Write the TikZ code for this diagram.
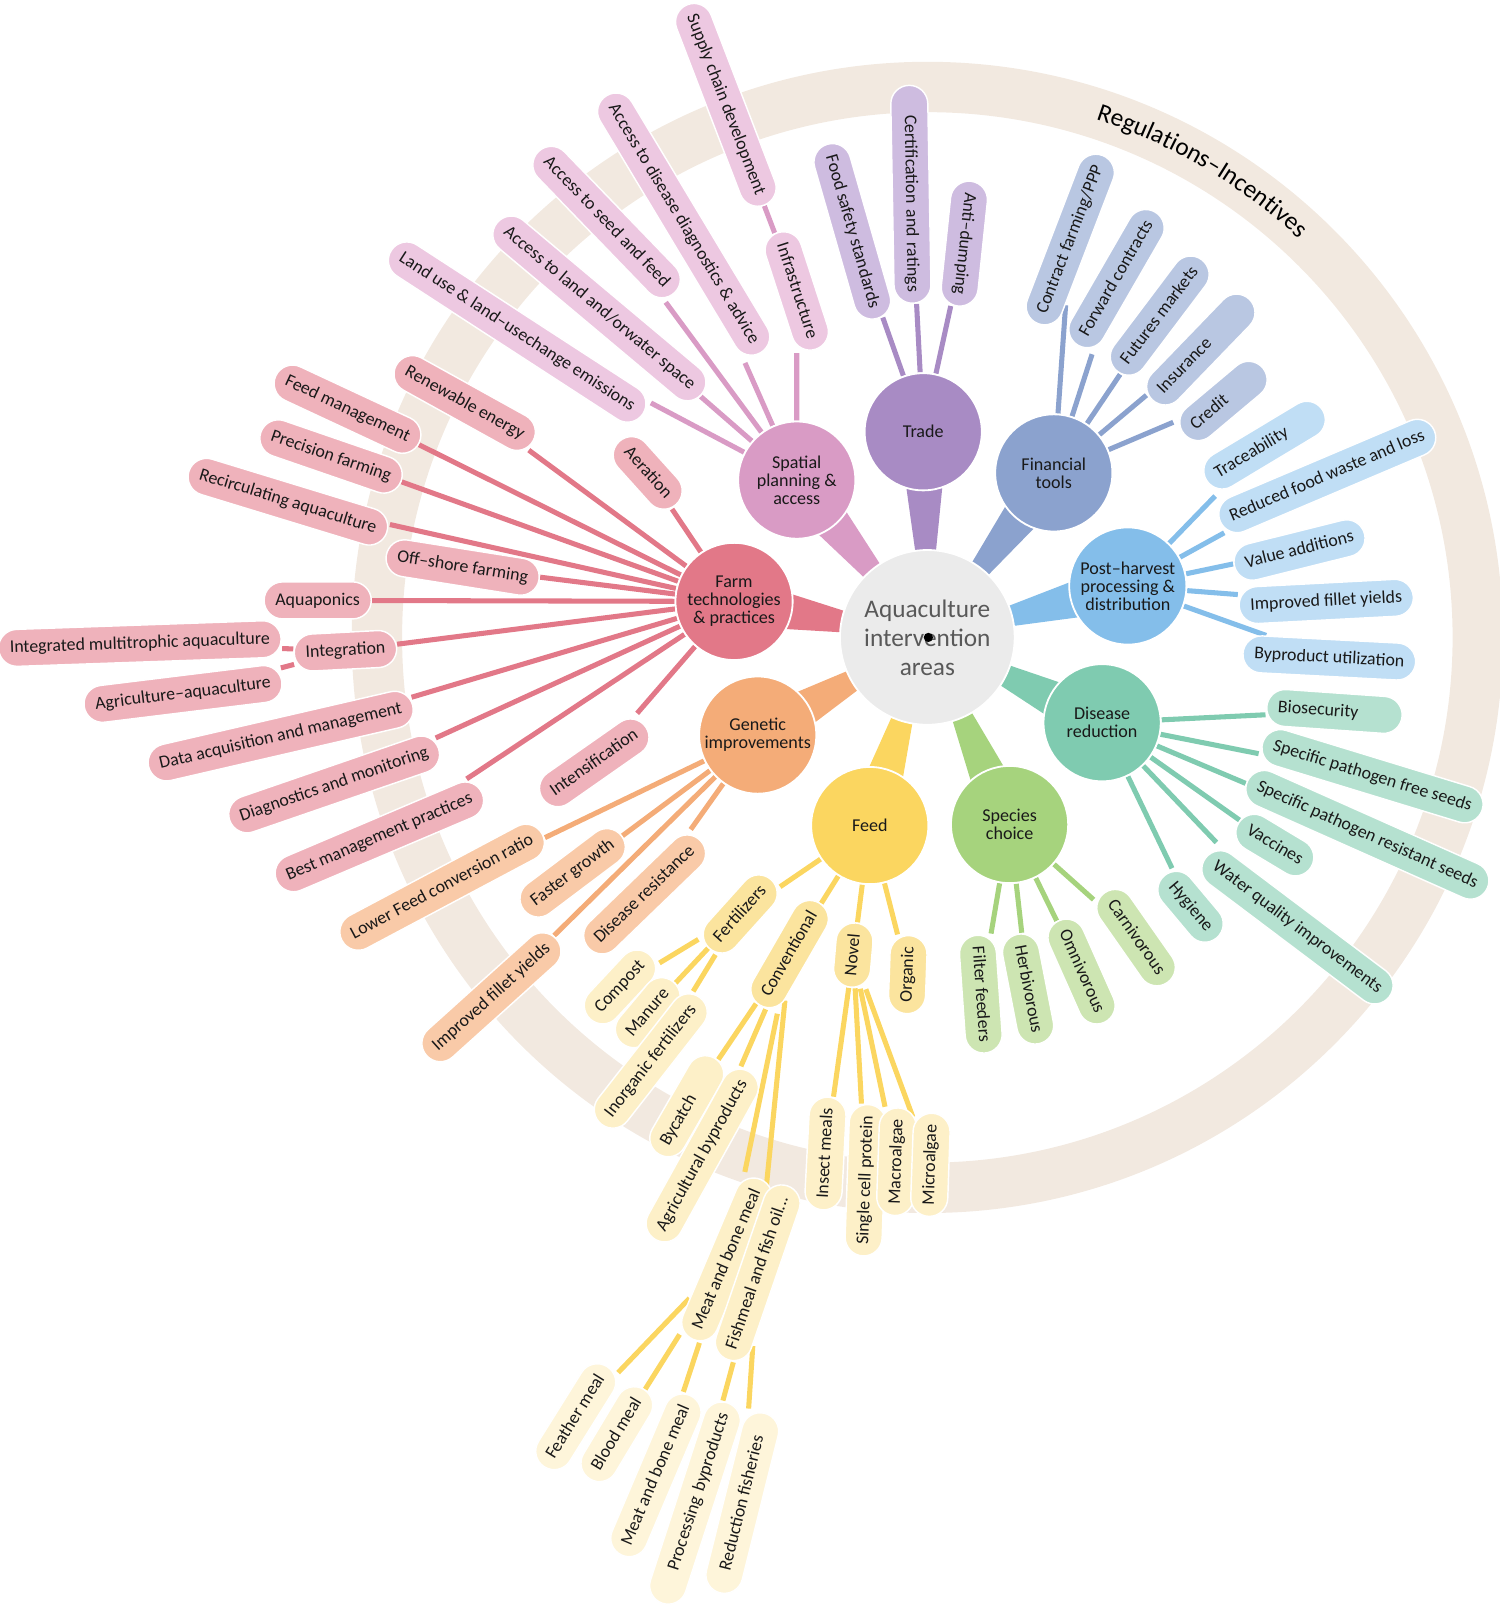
\documentclass[tikz,border=0pt]{standalone}
\usepackage{fontspec}
\setmainfont{Carlito}
\usetikzlibrary{calc}
\usetikzlibrary{decorations.text}
\pgfdeclarelayer{background}
\pgfsetlayers{background,main}
% hub colours (H), leaf colours (L)
\definecolor{ringC}{RGB}{242,233,224}
\definecolor{aquaC}{RGB}{235,235,235}
\definecolor{spaH}{RGB}{217,155,197}\definecolor{spaL}{RGB}{237,200,225}
\definecolor{traH}{RGB}{168,139,196}\definecolor{traL}{RGB}{206,188,224}
\definecolor{finH}{RGB}{139,162,206}\definecolor{finL}{RGB}{185,199,226}
\definecolor{posH}{RGB}{132,190,234}\definecolor{posL}{RGB}{192,222,245}
\definecolor{disH}{RGB}{127,203,176}\definecolor{disL}{RGB}{181,225,208}
\definecolor{speH}{RGB}{166,211,125}\definecolor{speL}{RGB}{205,229,178}
\definecolor{feeH}{RGB}{251,214,96}\definecolor{feeL}{RGB}{251,228,158}
\definecolor{feeM}{RGB}{253,240,200}\definecolor{feeN}{RGB}{254,245,218}
\definecolor{genH}{RGB}{244,172,120}\definecolor{genL}{RGB}{249,202,168}
\definecolor{farH}{RGB}{226,120,136}\definecolor{farL}{RGB}{239,178,187}
\tikzset{
    hub/.style={circle,fill=#1,draw=white,line width=1pt,minimum size=2.28cm,inner sep=0pt,
        align=center,font=\fontsize{10}{10}\selectfont,text=black!90},
    pill/.style={rectangle,rounded corners=0.36cm,fill=#1,draw=white,line width=0.8pt,
        minimum height=0.72cm,inner xsep=0.22cm,inner ysep=0pt,text height=1.45ex,text depth=0.35ex,
        font=\fontsize{9.9}{11}\selectfont,text=black!90},
    longpill/.style 2 args={text width=#1,align=#2},
    link/.style={draw=#1,line width=2.8pt},
}

\begin{document}
\begin{tikzpicture}[x=0.02cm,y=0.02cm]
\useasboundingbox (0,0) rectangle (1459,-1567);
% centre and hubs
\node[circle,fill=aquaC,draw=white,line width=1pt,minimum size=3.4cm,inner sep=0pt,align=center,
    font=\fontsize{14}{16}\selectfont,text=black!65] (aqua) at (902,-620) {Aquaculture\\intervention\\areas};
\node[hub=spaH] (spatial) at (775,-467) {Spatial\\planning \&\\access};
\node[hub=traH] (trade) at (898,-420) {Trade};
\node[hub=finH] (finance) at (1025,-460) {Financial\\tools};
\node[hub=posH] (post) at (1097,-570) {Post--harvest\\processing \&\\distribution};
\node[hub=disH] (disease) at (1072,-703) {Disease\\reduction};
\node[hub=speH] (species) at (982,-802) {Species\\choice};
\node[hub=feeH] (feed) at (846,-803) {Feed};
\node[hub=genH] (genetic) at (737,-715) {Genetic\\improvements};
\node[hub=farH] (farm) at (714,-585) {Farm\\technologies\\\& practices};
\fill (903,-620) circle[radius=0.09cm];
% spatial planning
\node[pill=spaL,rotate=-33] (landuse) at (503,-323) {Land use \& land--usechange emissions};
\node[pill=spaL,rotate=-40] (accland) at (583,-300) {Access to land and/orwater space};
\node[pill=spaL,rotate=-46] (accseed) at (590,-216) {Access to seed and feed};
\node[pill=spaL,rotate=-59] (accdis) at (665,-218) {Access to disease diagnostics \& advice};
\node[pill=spaL,rotate=-69] (supply) at (706,-102) {Supply chain development};
\node[pill=spaL,rotate=-72] (infra) at (775,-283) {Infrastructure};
% trade
\node[pill=traL,rotate=-74] (foodsafe) at (829,-225) {Food safety standards};
\node[pill=traL,rotate=-89,longpill={3.8cm}{right}] (certif) at (886,-189) {Certification and ratings};
\node[pill=traL,rotate=-96] (antidump) at (938,-237) {Anti--dumping};
% financial tools
\node[pill=finL,rotate=69] (contract) at (1041,-233) {Contract farming/PPP};
\node[pill=finL,rotate=60] (forward) at (1086,-271) {Forward contracts};
\node[pill=finL,rotate=53] (futures) at (1128,-307) {Futures markets};
\node[pill=finL,rotate=46,longpill={2.28cm}{left}] (insur) at (1168,-340) {Insurance};
\node[pill=finL,rotate=40,longpill={1.56cm}{left}] (credit) at (1190,-390) {Credit};
% post-harvest
\node[pill=posL,rotate=31,longpill={2.2cm}{left}] (trace) at (1230,-433) {Traceability};
\node[pill=posL,rotate=23] (reduced) at (1291,-463) {Reduced food waste and loss};
\node[pill=posL,rotate=14] (valueadd) at (1264,-535) {Value additions};
\node[pill=posL,rotate=3] (fillet) at (1290,-585) {Improved fillet yields};
\node[pill=posL,rotate=-3] (byprod) at (1293,-640) {Byproduct utilization};
% disease reduction
\node[pill=disL,rotate=-4,longpill={2.2cm}{left}] (biosec) at (1298,-692) {Biosecurity};
\node[pill=disL,rotate=-17] (spfree) at (1335,-755) {Specific pathogen free seeds};
\node[pill=disL,rotate=-24] (spres) at (1330,-812) {Specific pathogen resistant seeds};
\node[pill=disL,rotate=-31] (vacc) at (1240,-822) {Vaccines};
\node[pill=disL,rotate=-37] (water) at (1262,-902) {Water quality improvements};
\node[pill=disL,rotate=-50] (hygiene) at (1158,-882) {Hygiene};
% species choice
\node[pill=speL,rotate=-86] (filter) at (954,-967) {Filter feeders};
\node[pill=speL,rotate=-79] (herbi) at (1000,-962) {Herbivorous};
\node[pill=speL,rotate=-66] (omni) at (1052,-945) {Omnivorous};
\node[pill=speL,rotate=-55] (carni) at (1105,-912) {Carnivorous};
% feed
\node[pill=feeL,rotate=48] (fert) at (720,-889) {Fertilizers};
\node[pill=feeL,rotate=60] (conv) at (768,-928) {Conventional};
\node[pill=feeL,rotate=85] (novel) at (830,-929) {Novel};
\node[pill=feeL,rotate=88] (organic) at (883,-948) {Organic};
\node[pill=feeM,rotate=47] (compost) at (603,-960) {Compost};
\node[pill=feeM,rotate=50] (manure) at (630,-985) {Manure};
\node[pill=feeM,rotate=52] (inorg) at (633,-1032) {Inorganic fertilizers};
\node[pill=feeM,rotate=60,longpill={1.72cm}{left}] (bycatch) at (668,-1076) {Bycatch};
\node[pill=feeM,rotate=61] (agri) at (683,-1124) {Agricultural byproducts};
\node[pill=feeM,rotate=67] (meatA) at (707,-1225) {Meat and bone meal};
\node[pill=feeM,rotate=71] (fish) at (737,-1238) {Fishmeal and fish oil...};
\node[pill=feeM,rotate=87] (insect) at (803,-1122) {Insect meals};
\node[pill=feeM,rotate=88] (single) at (842,-1148) {Single cell protein};
\node[pill=feeM,rotate=88] (macro) at (872,-1130) {Macroalgae};
\node[pill=feeM,rotate=88] (micro) at (905,-1133) {Microalgae};
\node[pill=feeN,rotate=58] (feather) at (560,-1378) {Feather meal};
\node[pill=feeN,rotate=59] (blood) at (600,-1395) {Blood meal};
\node[pill=feeN,rotate=67] (meatB) at (638,-1435) {Meat and bone meal};
\node[pill=feeN,rotate=72,longpill={3.66cm}{right}] (process) at (676,-1462) {Processing byproducts};
\node[pill=feeN,rotate=76,minimum width=3.6cm] (reduct) at (722,-1462) {Reduction fisheries};
% genetic improvements
\node[pill=genL,rotate=28] (lowerfcr) at (430,-863) {Lower Feed conversion ratio};
\node[pill=genL,rotate=37] (faster) at (557,-849) {Faster growth};
\node[pill=genL,rotate=44] (disres) at (627,-870) {Disease resistance};
\node[pill=genL,rotate=42] (genfillet) at (478,-970) {Improved fillet yields};
% farm technologies
\node[pill=farL,rotate=-25] (feedmgmt) at (338,-398) {Feed management};
\node[pill=farL,rotate=-29] (renew) at (452,-392) {Renewable energy};
\node[pill=farL,rotate=-19] (precision) at (322,-444) {Precision farming};
\node[pill=farL,rotate=-17] (recirc) at (280,-488) {Recirculating aquaculture};
\node[pill=farL,rotate=-48] (aeration) at (630,-460) {Aeration};
\node[pill=farL,rotate=-9] (offshore) at (450,-552) {Off--shore farming};
\node[pill=farL] (aquapon) at (309,-584) {Aquaponics};
\node[pill=farL,rotate=3] (integ) at (336,-633) {Integration};
\node[pill=farL,rotate=2] (imta) at (136,-626) {Integrated multitrophic aquaculture};
\node[pill=farL,rotate=7] (agriaqua) at (178,-675) {Agriculture--aquaculture};
\node[pill=farL,rotate=13] (dataacq) at (273,-716) {Data acquisition and management};
\node[pill=farL,rotate=19] (diagmon) at (325,-763) {Diagnostics and monitoring};
\node[pill=farL,rotate=23] (bestmgmt) at (369,-814) {Best management practices};
\node[pill=farL,rotate=35] (intens) at (578,-742) {Intensification};
% ring
\path[decorate,decoration={text along path,text align=center,
    text={|\fontsize{14}{14}\selectfont|Regulations{\textendash}Incentives}}]
    ($(aqua.center)+(82:10.6cm)$) arc[start angle=82,end angle=37,radius=10.6cm];
\begin{pgfonlayer}{background}
\draw[ringC,line width=0.98cm] (aqua.center) circle[radius=10.71cm];
\foreach \h/\c in {spatial/spaH,trade/traH,finance/finH,post/posH,disease/disH,species/speH,feed/feeH,genetic/genH,farm/farH}
    \fill[\c] ($(\h.center)!0.48cm!90:(aqua.center)$) -- ($(\h.center)!0.48cm!-90:(aqua.center)$) -- (aqua.center) -- cycle;
\foreach \b in {landuse,accland,accseed,accdis,infra} \draw[link=spaH] (spatial) -- (\b);
\draw[link=spaH] (infra) -- (supply);
\foreach \b in {foodsafe,certif,antidump} \draw[link=traH] (trade) -- (\b);
\foreach \b in {contract,forward,futures,insur,credit} \draw[link=finH] (finance) -- (\b);
\foreach \b in {trace,reduced,valueadd,fillet,byprod} \draw[link=posH] (post) -- (\b);
\foreach \b in {biosec,spfree,spres,vacc,water,hygiene} \draw[link=disH] (disease) -- (\b);
\foreach \b in {filter,herbi,omni,carni} \draw[link=speH] (species) -- (\b);
\foreach \b in {fert,conv,novel,organic} \draw[link=feeH] (feed) -- (\b);
\foreach \b in {compost,manure,inorg} \draw[link=feeH] (fert) -- (\b);
\foreach \b in {bycatch,agri,meatA,fish} \draw[link=feeH] (conv) -- (\b);
\foreach \b in {insect,single,macro,micro} \draw[link=feeH] (novel) -- (\b);
\foreach \b in {feather,blood,meatB} \draw[link=feeH] (meatA) -- (\b);
\foreach \b in {process,reduct} \draw[link=feeH] (fish) -- (\b);
\foreach \b in {lowerfcr,faster,disres,genfillet} \draw[link=genH] (genetic) -- (\b);
\foreach \b in {feedmgmt,renew,precision,recirc,aeration,offshore,aquapon,integ,dataacq,diagmon,bestmgmt,intens}
    \draw[link=farH] (farm) -- (\b);
\foreach \b in {imta,agriaqua} \draw[link=farH] (integ) -- (\b);
\end{pgfonlayer}
\end{tikzpicture}
\end{document}
